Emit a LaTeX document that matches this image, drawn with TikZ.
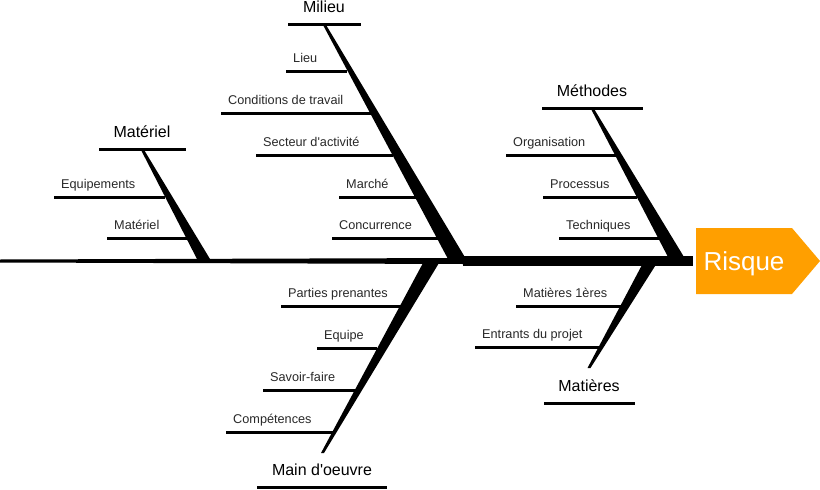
\documentclass[tikz,border=0pt]{standalone}
\usepackage{fontspec}
\setmainfont{Liberation Sans}
\definecolor{risqueorange}{RGB}{255,159,0}
\definecolor{causegray}{RGB}{40,40,40}

\begin{document}
\begin{tikzpicture}[x=1pt, y=-1pt,
  os/.style={line width=3pt},
  cause/.style={anchor=base west, inner sep=0pt, text=causegray, font=\fontsize{12.7}{14}\selectfont},
  famille/.style={anchor=base, inner sep=0pt, font=\fontsize{16}{18}\selectfont}]
 \useasboundingbox (0,0) rectangle (820,490);

 % arete principale et tete
 \fill (0,259.5) -- (463,258) -- (463,264) -- (0,262.5) -- cycle;
 \fill (463,256) -- (693,256) -- (693,266) -- (463,266) -- cycle;
 \fill[risqueorange] (696,228) -- (792,228) -- (820,261) -- (792,294) -- (696,294) -- cycle;
 \node [white, anchor=base, inner sep=0pt, font=\fontsize{26}{30}\selectfont] (risque) at (744,270) {Risque};

 % Materiel
 \fill (140.5,149) -- (143.5,149) -- (210,259) -- (197,259) -- cycle;
 \draw[os] (99,149) -- (186,149);
 \node [famille] (materiel) at (142,137) {Matériel};
 \draw[os] (54,197) -- (165,197);
 \node [cause] (equipements) at (61,188) {Equipements};
 \draw[os] (107,238) -- (187,238);
 \node [cause] (materiel2) at (114,229) {Matériel};

 % Milieu
 \fill (322.5,24) -- (325.5,24) -- (466,259) -- (448,259) -- cycle;
 \draw[os] (288,24) -- (361,24);
 \node [famille] (milieu) at (324,12) {Milieu};
 \draw[os] (286,71) -- (347,71);
 \node [cause] (lieu) at (293,62) {Lieu};
 \draw[os] (221,113) -- (372,113);
 \node [cause] (conditions) at (228,104) {Conditions de travail};
 \draw[os] (256,155) -- (393,155);
 \node [cause] (secteur) at (263,146) {Secteur d\textquotesingle activité};
 \draw[os] (339,197) -- (417,197);
 \node [cause] (marche) at (346,188) {Marché};
 \draw[os] (332,238) -- (440,238);
 \node [cause] (concurrence) at (339,229) {Concurrence};

 % Methodes
 \fill (590.5,108) -- (593.5,108) -- (684,257) -- (668,257) -- cycle;
 \draw[os] (542,108) -- (643,108);
 \node [famille] (methodes) at (592,96) {Méthodes};
 \draw[os] (506,155) -- (617,155);
 \node [cause] (organisation) at (513,146) {Organisation};
 \draw[os] (543,197) -- (637,197);
 \node [cause] (processus) at (550,188) {Processus};
 \draw[os] (559,238) -- (660,238);
 \node [cause] (techniques) at (566,229) {Techniques};

 % Main d'oeuvre
 \fill (423,263) -- (439,263) -- (324,453) -- (321,453) -- cycle;
 \draw[os] (257,487) -- (387,487);
 \node [famille] (mainoeuvre) at (322,475.5) {Main d\textquotesingle oeuvre};
 \draw[os] (281,306) -- (402,306);
 \node [cause] (parties) at (288,297) {Parties prenantes};
 \draw[os] (317,348) -- (377,348);
 \node [cause] (equipe) at (324,339) {Equipe};
 \draw[os] (263,390) -- (355,390);
 \node [cause] (savoir) at (270,381) {Savoir-faire};
 \draw[os] (226,432) -- (333,432);
 \node [cause] (competences) at (233,423) {Compétences};

 % Matieres
 \fill (643,263) -- (657,263) -- (590.5,368) -- (587.5,368) -- cycle;
 \draw[os] (544,403) -- (635,403);
 \node [famille] (matieres) at (589,391) {Matières};
 \draw[os] (516,306) -- (622,306);
 \node [cause] (premieres) at (523,297) {Matières 1ères};
 \draw[os] (475,347) -- (600,347);
 \node [cause] (entrants) at (482,338) {Entrants du projet};
\end{tikzpicture}
\end{document}
